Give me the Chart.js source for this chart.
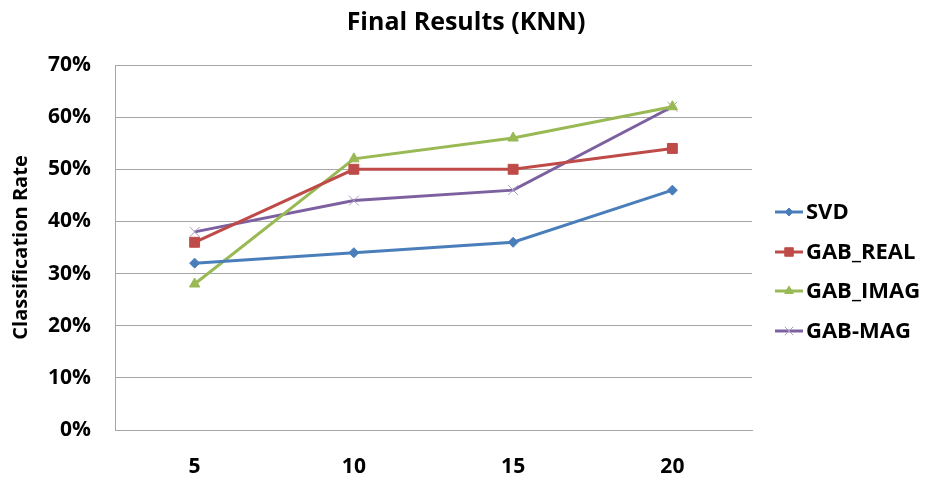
<!DOCTYPE html>
<html><head><meta charset="utf-8">
<script src="https://cdn.jsdelivr.net/npm/chart.js@4"></script>
<style>html,body{margin:0;padding:0;background:#fff}#wrap{width:930px;height:483px}</style>
</head><body><div id="wrap"><canvas id="c" width="930" height="483"></canvas></div>
<script>
const categories = ['5', '10', '15', '20'];
const svd = [32, 34, 36, 46];
const gabReal = [36, 50, 50, 54];
const gabImag = [28, 52, 56, 62];
const gabMag = [38, 44, 46, 62];
const seriesNames = ['SVD', 'GAB_REAL', 'GAB_IMAG', 'GAB-MAG'];
const chartTitle = 'Final Results (KNN)';
const yTitle = 'Classification Rate';

const FONT = '"Open Sans", Lato, sans-serif';

const overlayPlugin = {
  id: 'overlay',
  afterDraw(chart) {
    const ctx = chart.ctx;
    // title
    ctx.save();
    ctx.font = 'bold 25px ' + FONT;
    ctx.fillStyle = '#000';
    ctx.textAlign = 'center';
    ctx.textBaseline = 'middle';
    ctx.fillText(chartTitle, 466, 23);
    ctx.restore();
    // legend
    const x0 = 775, x1 = 803, tx = 806;
    const ys = [212, 252, 291, 331];
    chart.data.datasets.forEach((ds, i) => {
      const y = ys[i];
      ctx.save();
      ctx.strokeStyle = ds.borderColor;
      ctx.lineWidth = 3;
      ctx.beginPath(); ctx.moveTo(x0, y); ctx.lineTo(x1, y); ctx.stroke();
      ctx.fillStyle = ds.pointBackgroundColor;
      ctx.strokeStyle = ds.pointBorderColor;
      ctx.lineWidth = ds.pointBorderWidth;
      Chart.helpers.drawPoint(ctx, {pointStyle: ds.pointStyle, radius: ds.pointRadius - 1, borderWidth: ds.pointBorderWidth}, (x0 + x1) / 2, y);
      ctx.restore();
      ctx.save();
      ctx.font = 'bold 22px ' + FONT;
      ctx.fillStyle = '#000';
      ctx.textBaseline = 'middle';
      ctx.fillText(ds.label, tx, y + 1);
      ctx.restore();
    });
  }
};

function mk(label, data, color, style, radius, bg, bc) {
  return {
    label, data, borderColor: color, borderWidth: 3,
    pointStyle: style, pointRadius: radius, pointHoverRadius: radius,
    pointBackgroundColor: bg || color, pointBorderColor: bc || color,
    pointBorderWidth: 1, tension: 0, fill: false
  };
}

new Chart(document.getElementById('c'), {
  type: 'line',
  data: {
    labels: categories,
    datasets: [
      mk(seriesNames[0], svd, '#4a7ebb', 'rectRot', 5),
      mk(seriesNames[1], gabReal, '#be4b48', 'rect', 7),
      mk(seriesNames[2], gabImag, '#98b954', 'triangle', 6),
      mk(seriesNames[3], gabMag, '#7d60a0', 'crossRot', 7, '#b4a7c8', '#a89cbf')
    ]
  },
  options: {
    responsive: false,
    animation: false,
    devicePixelRatio: 1,
    layout: { padding: { left: 0, right: 178, top: 65, bottom: 0 } },
    plugins: {
      legend: { display: false },
      tooltip: { enabled: false },
      title: { display: false }
    },
    scales: {
      x: {
        offset: true,
        grid: { display: false, drawTicks: false },
        border: { display: true, color: '#a6a6a6', width: 1 },
        ticks: { color: '#000', font: { family: FONT, size: 21, weight: 'bold' }, padding: 24, maxRotation: 0 },
        afterFit(s) { s.height = 53; }
      },
      y: {
        min: 0, max: 70,
        grid: { color: '#a6a6a6', lineWidth: 1, drawTicks: false },
        border: { display: true, color: '#a6a6a6', width: 1 },
        ticks: {
          stepSize: 10, color: '#000', padding: 24,
          font: { family: FONT, size: 21, weight: 'bold' },
          callback: v => v + '%'
        },
        title: {
          display: true, text: yTitle, color: '#000',
          font: { family: FONT, size: 20, weight: 'bold' },
          padding: { top: 9, bottom: 0 }
        },
        afterFit(s) { s.width = 115; }
      }
    }
  },
  plugins: [overlayPlugin]
});
</script>
</body></html>
